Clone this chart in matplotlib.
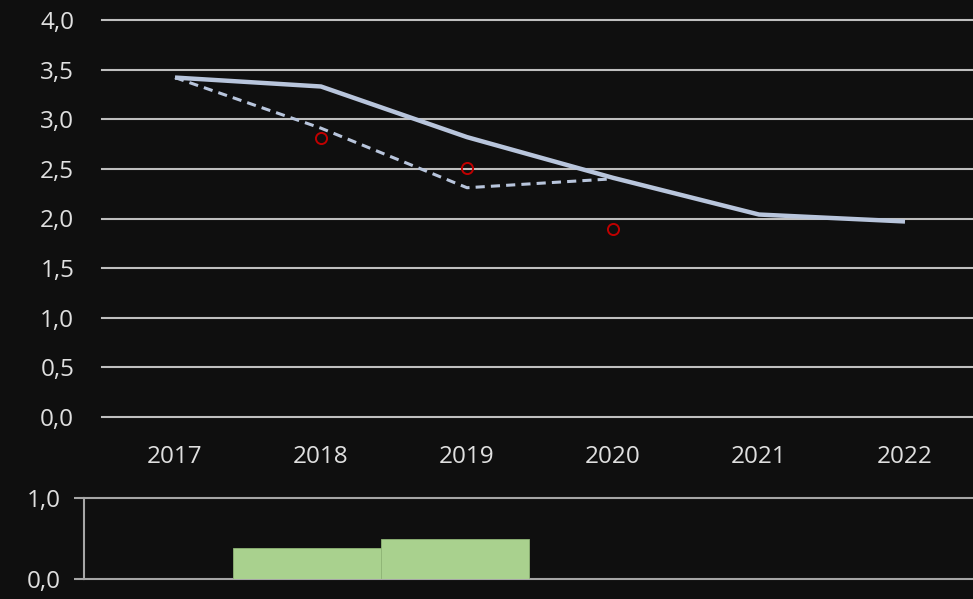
import numpy as np
import matplotlib
matplotlib.use('Agg')
import matplotlib.pyplot as plt

# values
years = ['2017', '2018', '2019', '2020', '2021', '2022']
trend = [3.42, 3.33, 2.82, 2.41, 2.04, 1.97]
forecast = [3.42, 2.91, 2.31, 2.40]
observed = [np.nan, 2.81, 2.51, 1.89]
bar_vals = [0.0, 0.38, 0.49, 0.0, 0.0, 0.0]

bg = '#0f0f0f'
grid_c = '#bfbfbf'
txt_c = '#e0e0e0'
line_c = '#b8c5dc'

plt.rcParams['font.family'] = ['Open Sans', 'DejaVu Sans']

fig = plt.figure(figsize=(9.73, 5.99), dpi=100, facecolor=bg)

# top panel
ax = fig.add_axes([102/973, (599-417)/599, 876/973, 397/599], facecolor=bg)
x = np.arange(len(years))
ax.plot(x, trend, color=line_c, lw=3.2, solid_capstyle='butt', zorder=3)
ax.plot(x[:len(forecast)], forecast, color=line_c, lw=2.2, ls=(0, (3, 2)), zorder=3)
ax.plot(x[:len(observed)], observed, ls='none', marker='o', ms=8, mfc='none',
        mec='#c00000', mew=1.4, zorder=4)
ax.set_xlim(-0.5, len(years) - 0.5)
ax.set_ylim(0, 4.0)
ax.set_yticks(np.arange(0, 4.01, 0.5))
ax.set_yticklabels([f'{v:.1f}'.replace('.', ',') for v in np.arange(0, 4.01, 0.5)])
ax.set_xticks(x)
ax.set_xticklabels(years)
ax.yaxis.grid(True, color=grid_c, lw=1.5)
ax.set_axisbelow(True)
for s in ax.spines.values():
    s.set_visible(False)
ax.tick_params(axis='both', length=0, colors=txt_c, labelsize=17.5)
ax.tick_params(axis='y', pad=20)
ax.tick_params(axis='x', pad=20)
for g in ax.get_ygridlines():
    g.set_clip_on(False)

# bottom panel
bx = fig.add_axes([84/973, (599-579)/599, 891/973, 81/599], facecolor=bg)
bx.bar(x, bar_vals, width=1.0, color='#a9d18e', edgecolor='#8fb576', lw=0.6, zorder=3)
bx.set_xlim(-0.5, len(years) - 0.5)
bx.set_ylim(0, 1.0)
bx.set_yticks([0, 1.0])
bx.set_yticklabels(['0,0', '1,0'])
bx.set_xticks([])
bx.yaxis.grid(True, color='#a6a6a6', lw=1.5)
bx.set_axisbelow(True)
for k in ['top', 'right', 'bottom']:
    bx.spines[k].set_visible(False)
bx.spines['left'].set_color('#a6a6a6')
bx.spines['left'].set_linewidth(1.5)
bx.tick_params(axis='y', length=7, width=1.5, color='#a6a6a6', colors=txt_c, labelsize=17.5, pad=10)
for g in bx.get_ygridlines():
    g.set_clip_on(False)

fig.savefig('out.png', dpi=100, facecolor=bg)
